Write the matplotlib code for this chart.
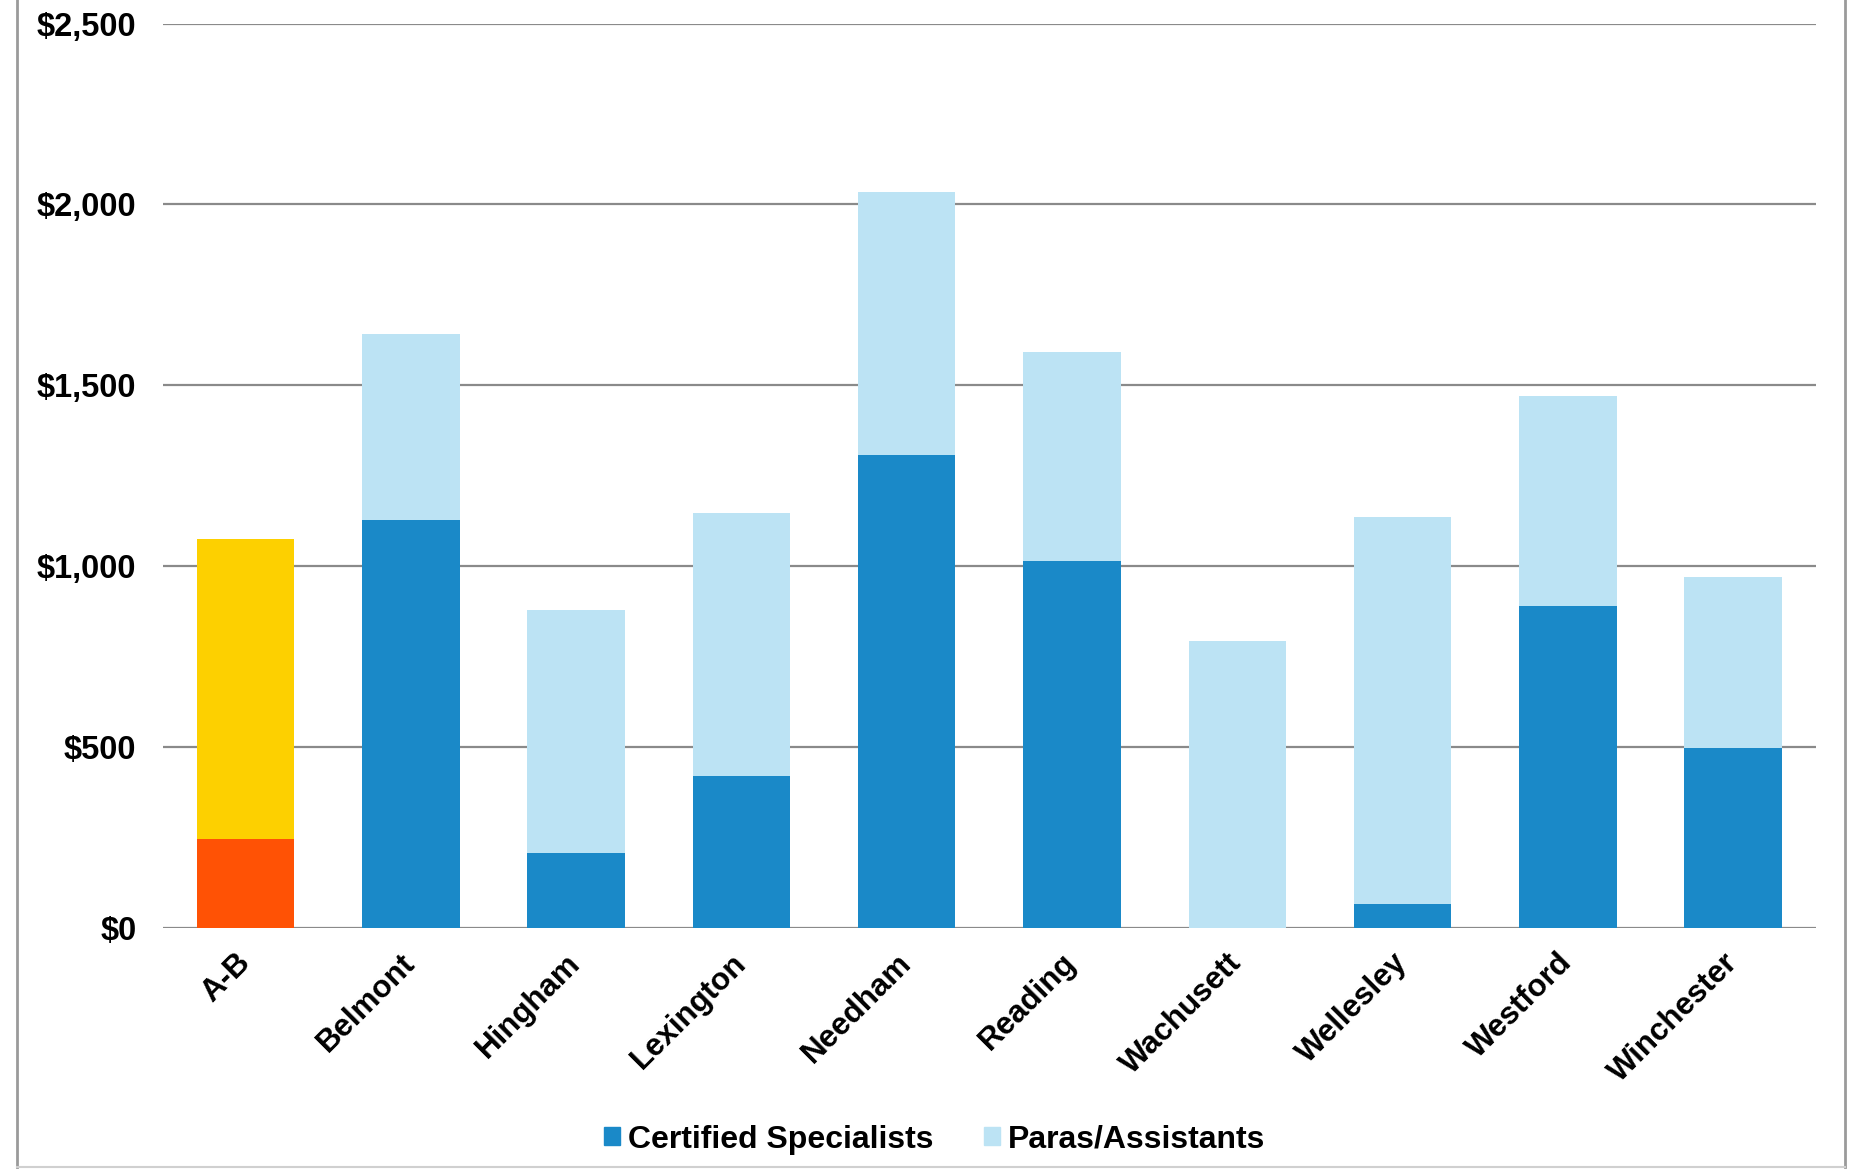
import matplotlib
matplotlib.use("Agg")
import matplotlib.pyplot as plt
from matplotlib.lines import Line2D
from matplotlib.patches import Patch
from matplotlib.ticker import FuncFormatter

# per-pupil spending by district, split by staff type
districts = ["A-B", "Belmont", "Hingham", "Lexington", "Needham",
             "Reading", "Wachusett", "Wellesley", "Westford", "Winchester"]
certified = [245, 1128, 206, 420, 1306, 1015, 0, 65, 891, 498]
paras = [830, 513, 672, 728, 728, 577, 792, 1072, 580, 473]

dark_blue = "#1A89C8"
light_blue = "#BCE3F4"
# home district gets its own colours
cert_colors = ["#FF5205"] + [dark_blue] * (len(districts) - 1)
para_colors = ["#FDD000"] + [light_blue] * (len(districts) - 1)

plt.rcParams["font.family"] = ["Liberation Sans", "DejaVu Sans"]
plt.rcParams["font.weight"] = "bold"

fig = plt.figure(figsize=(18.51, 11.76), dpi=100)
ax = fig.add_axes([0.088, 0.211, 0.893, 0.769])

x = range(len(districts))
ax.bar(x, certified, width=0.59, color=cert_colors, zorder=3)
ax.bar(x, paras, width=0.59, bottom=certified, color=para_colors, zorder=3)

ax.set_xlim(-0.5, len(districts) - 0.5)
ax.set_ylim(0, 2500)
ax.set_yticks([0, 500, 1000, 1500, 2000, 2500])
ax.yaxis.set_major_formatter(FuncFormatter(lambda v, p: "${:,.0f}".format(v)))
ax.grid(axis="y", color="#8a8a8a", linewidth=1.6, zorder=0)
ax.set_axisbelow(True)
for s in ax.spines.values():
    s.set_visible(False)
ax.tick_params(axis="both", length=0)
ax.tick_params(axis="y", pad=19, labelsize=23.5)

ax.set_xticks(list(x))
ax.set_xticklabels(districts, rotation=45, ha="right", va="center",
                   rotation_mode="anchor", fontweight="bold", fontsize=22.5)
ax.tick_params(axis="x", pad=22)
for lbl in ax.get_yticklabels():
    lbl.set_fontweight("bold")

handles = [Patch(color=dark_blue, label="Certified Specialists"),
           Patch(color=light_blue, label="Paras/Assistants")]
fig.legend(handles=handles, loc="center", bbox_to_anchor=(0.505, 0.031),
           ncol=2, frameon=False, handlelength=0.5,
           handleheight=0.5, handletextpad=0.25, columnspacing=1.6,
           prop={"weight": "bold", "size": 23})

# page frame around the chart
fig.add_artist(Line2D([0.009, 0.009], [0.008, 1.0], color="#9a9a9a", linewidth=2))
fig.add_artist(Line2D([0.997, 0.997], [0.008, 1.0], color="#9a9a9a", linewidth=2))
fig.add_artist(Line2D([0.009, 0.997], [0.008, 0.008], color="#d0d0d0", linewidth=1.5))

fig.savefig("out.png", dpi=100)
